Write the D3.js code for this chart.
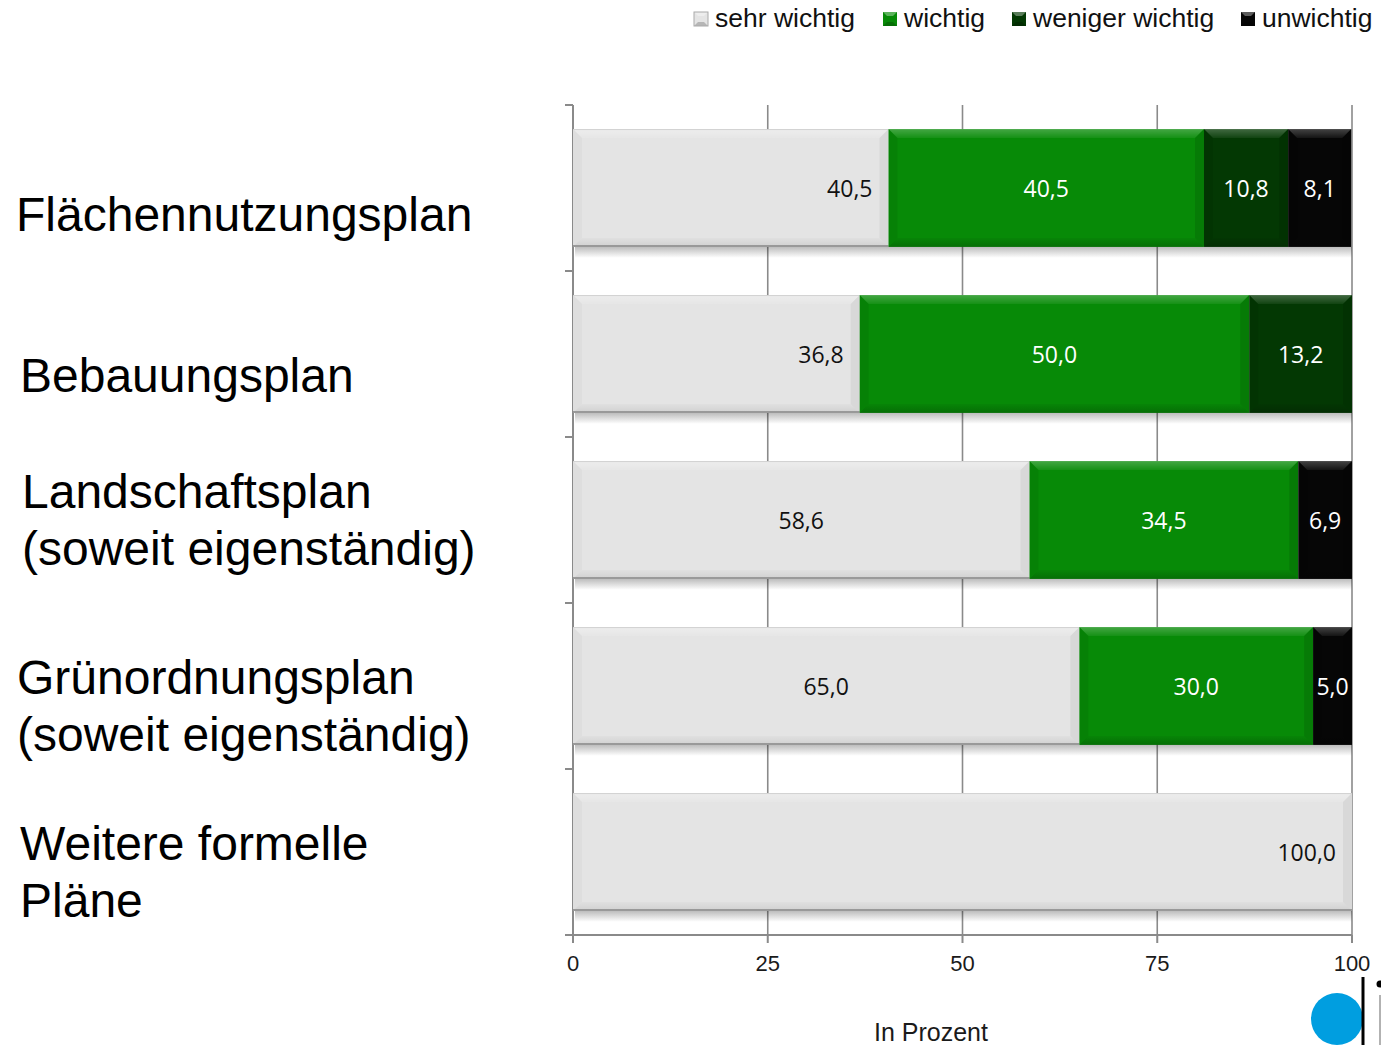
<!DOCTYPE html>
<html>
<head>
<meta charset="utf-8">
<script src="https://cdn.jsdelivr.net/npm/d3@7"></script>
<style>
  html, body { margin: 0; padding: 0; background: #fff; }
  svg { display: block; }
</style>
</head>
<body>
<svg id="chart" width="1381" height="1045"></svg>
<script>
// ---------------- DATA ----------------
const categories = [
  "Flächennutzungsplan",
  "Bebauungsplan",
  "Landschaftsplan (soweit eigenständig)",
  "Grünordnungsplan (soweit eigenständig)",
  "Weitere formelle Pläne"
];
const categoryLines = [
  ["Flächennutzungsplan"],
  ["Bebauungsplan"],
  ["Landschaftsplan", "(soweit eigenständig)"],
  ["Grünordnungsplan", "(soweit eigenständig)"],
  ["Weitere formelle", "Pläne"]
];
const seriesNames = ["sehr wichtig", "wichtig", "weniger wichtig", "unwichtig"];
const sehrWichtig    = [40.5, 36.8, 58.6, 65.0, 100.0];
const wichtig        = [40.5, 50.0, 34.5, 30.0, 0];
const wenigerWichtig = [10.8, 13.2, 0,    0,    0];
const unwichtig      = [8.1,  0,    6.9,  5.0,  0];
const xTicks = [0, 25, 50, 75, 100];
const axisTitle = "In Prozent";

// ---------------- STYLE / LAYOUT ----------------
const colors = ["#e4e4e4", "#078a07", "#033803", "#060606"];
const labelColors = ["#111", "#fff", "#fff", "#fff"];
const endAligned = new Set(["Flächennutzungsplan", "Bebauungsplan", "Weitere formelle Pläne"]);
const labelNudge = [ {x: 16, dy: 43}, {x: 20, dy: 38}, {x: 22, dy: -12}, {x: 17, dy: 8}, {x: 20, dy: 8} ];
const FONT = "'Liberation Sans', Arial, sans-serif";
const LFONT = "'Open Sans', 'Noto Sans', sans-serif";

const svg = d3.select("#chart");
const defs = svg.append("defs");

const x = d3.scaleLinear().domain([0, 100]).range([573, 1352]);
const y = d3.scaleBand().domain(categories).range([105, 935]).paddingInner(0.29).paddingOuter(0.145);

// shadow gradient
const sg = defs.append("linearGradient").attr("id", "shadow").attr("x1", 0).attr("y1", 0).attr("x2", 0).attr("y2", 1);
sg.append("stop").attr("offset", "0%").attr("stop-color", "#000").attr("stop-opacity", 0.26);
sg.append("stop").attr("offset", "100%").attr("stop-color", "#000").attr("stop-opacity", 0);

// top highlight gradient for bevel
const tg = defs.append("linearGradient").attr("id", "topHi").attr("x1", 0).attr("y1", 0).attr("x2", 0).attr("y2", 1);
tg.append("stop").attr("offset", "0%").attr("stop-color", "#fff").attr("stop-opacity", 0.35);
tg.append("stop").attr("offset", "100%").attr("stop-color", "#fff").attr("stop-opacity", 0.08);
const bg = defs.append("linearGradient").attr("id", "botSh").attr("x1", 0).attr("y1", 0).attr("x2", 0).attr("y2", 1);
bg.append("stop").attr("offset", "0%").attr("stop-color", "#000").attr("stop-opacity", 0.05);
bg.append("stop").attr("offset", "100%").attr("stop-color", "#000").attr("stop-opacity", 0.25);

// gridlines
svg.append("g").selectAll("line").data(xTicks.filter(d => d > 0)).join("line")
  .attr("x1", d => x(d)).attr("x2", d => x(d))
  .attr("y1", 105).attr("y2", 935)
  .attr("stroke", "#8a8a8a").attr("stroke-width", 1.6);

// y axis
const yAxisG = svg.append("g");
yAxisG.append("line").attr("x1", 573).attr("x2", 573).attr("y1", 105).attr("y2", 935)
  .attr("stroke", "#8a8a8a").attr("stroke-width", 2);
const boundaries = categories.map(c => y(c) - y.step() * y.paddingInner() / 2).concat([935]);
boundaries[0] = 105;
yAxisG.selectAll("line.tk").data(boundaries).join("line").attr("class", "tk")
  .attr("x1", 565).attr("x2", 573).attr("y1", d => d).attr("y2", d => d)
  .attr("stroke", "#8a8a8a").attr("stroke-width", 2);

// stacked data
const rows = categories.map((c, i) => ({
  cat: c,
  "sehr wichtig": sehrWichtig[i],
  "wichtig": wichtig[i],
  "weniger wichtig": wenigerWichtig[i],
  "unwichtig": unwichtig[i]
}));
const stack = d3.stack().keys(seriesNames)(rows);

// shadows beneath bars
svg.append("g").selectAll("rect").data(rows).join("rect")
  .attr("x", x(0) + 2).attr("width", x(100) - x(0) - 2)
  .attr("y", d => y(d.cat) + y.bandwidth()).attr("height", 11)
  .attr("fill", "url(#shadow)");

const bev = 9;
const segG = svg.append("g");
stack.forEach((layer, si) => {
  layer.forEach(seg => {
    const v = seg[1] - seg[0];
    if (v <= 0) return;
    const x0 = x(seg[0]), x1 = x(seg[1]);
    const y0 = y(seg.data.cat), y1 = y0 + y.bandwidth();
    const g = segG.append("g");
    g.append("rect").attr("x", x0).attr("y", y0).attr("width", x1 - x0).attr("height", y1 - y0)
      .attr("fill", colors[si]);
    const d = Math.min(bev, (x1 - x0) / 2);
    // top bevel
    g.append("path").attr("d", `M${x0},${y0}L${x1},${y0}L${x1 - d},${y0 + d}L${x0 + d},${y0 + d}Z`)
      .attr("fill", "url(#topHi)").attr("opacity", si === 0 ? 1.0 : 0.7);
    // bottom bevel
    g.append("path").attr("d", `M${x0},${y1}L${x1},${y1}L${x1 - d},${y1 - d}L${x0 + d},${y1 - d}Z`)
      .attr("fill", "url(#botSh)").attr("opacity", si === 0 ? 0.35 : 0.8);
    // left bevel
    g.append("path").attr("d", `M${x0},${y0}L${x0 + d},${y0 + d}L${x0 + d},${y1 - d}L${x0},${y1}Z`)
      .attr("fill", "#000").attr("opacity", si === 0 ? 0.025 : 0.06);
    // right bevel
    g.append("path").attr("d", `M${x1},${y0}L${x1 - d},${y0 + d}L${x1 - d},${y1 - d}L${x1},${y1}Z`)
      .attr("fill", "#000").attr("opacity", si === 0 ? 0.05 : 0.1);
    // edges
    if (si === 0) {
      g.append("line").attr("x1", x0).attr("x2", x1).attr("y1", y0 + 0.5).attr("y2", y0 + 0.5)
        .attr("stroke", "#d2d2d2").attr("stroke-width", 1);
      g.append("line").attr("x1", x0).attr("x2", x1).attr("y1", y1 - 1).attr("y2", y1 - 1)
        .attr("stroke", "#999").attr("stroke-width", 2);
    }
    // label
    const endAl = si === 0 && endAligned.has(seg.data.cat);
    g.append("text")
      .attr("x", endAl ? x1 - 16 : (x0 + x1) / 2)
      .attr("y", (y0 + y1) / 2 + 1)
      .attr("dy", "0.36em")
      .attr("text-anchor", endAl ? "end" : "middle")
      .attr("font-family", LFONT).attr("font-size", 23)
      .attr("fill", labelColors[si])
      .text(d3.format(".1f")(v).replace(".", ","));
  });
});

// x axis
const xAxisG = svg.append("g");
xAxisG.append("line").attr("x1", 565).attr("x2", 1352).attr("y1", 935).attr("y2", 935)
  .attr("stroke", "#8a8a8a").attr("stroke-width", 2);
xAxisG.selectAll("line.tk").data(xTicks).join("line").attr("class", "tk")
  .attr("x1", d => x(d)).attr("x2", d => x(d)).attr("y1", 935).attr("y2", 943)
  .attr("stroke", "#8a8a8a").attr("stroke-width", 2);
xAxisG.selectAll("text").data(xTicks).join("text")
  .attr("x", d => x(d)).attr("y", 971).attr("text-anchor", "middle")
  .attr("font-family", FONT).attr("font-size", 22).attr("fill", "#1a1a1a")
  .text(d => d);

svg.append("text").attr("x", 931).attr("y", 1041).attr("text-anchor", "middle")
  .attr("font-family", FONT).attr("font-size", 25).attr("fill", "#1a1a1a").text(axisTitle);

// category labels
categoryLines.forEach((lines, i) => {
  const cy = y(categories[i]) + y.bandwidth() / 2;
  const t = svg.append("text").attr("font-family", FONT).attr("font-size", 48).attr("fill", "#000");
  lines.forEach((ln, k) => {
    t.append("tspan").attr("x", labelNudge[i].x).attr("y", cy + labelNudge[i].dy + k * 57).text(ln);
  });
});

// legend
const legendX = [694, 883, 1012, 1241];
const lg = svg.append("g");
seriesNames.forEach((name, i) => {
  const g = lg.append("g").attr("transform", `translate(${legendX[i]},12)`);
  g.append("rect").attr("width", 14).attr("height", 14).attr("fill", colors[i]);
  g.append("path").attr("d", "M0,0L14,0L10,4L4,4Z").attr("fill", "#fff").attr("opacity", 0.35);
  g.append("path").attr("d", "M0,14L14,14L10,10L4,10Z").attr("fill", "#000").attr("opacity", 0.2);
  if (i === 0) g.append("rect").attr("width", 14).attr("height", 14).attr("fill", "none").attr("stroke", "#aaa").attr("stroke-width", 1);
  g.append("text").attr("x", 21).attr("y", 15).attr("font-family", FONT).attr("font-size", 26.5)
    .attr("fill", "#111").text(name);
});

// logo
const logo = svg.append("g");
logo.append("circle").attr("cx", 1337).attr("cy", 1019).attr("r", 26).attr("fill", "#009ee0");
logo.append("line").attr("x1", 1363).attr("x2", 1363).attr("y1", 977).attr("y2", 1045).attr("stroke", "#000").attr("stroke-width", 3);
logo.append("circle").attr("cx", 1380).attr("cy", 984).attr("r", 3.5).attr("fill", "#000");
logo.append("line").attr("x1", 1380).attr("x2", 1380).attr("y1", 995).attr("y2", 1045).attr("stroke", "#999").attr("stroke-width", 1.5);
</script>
</body>
</html>
